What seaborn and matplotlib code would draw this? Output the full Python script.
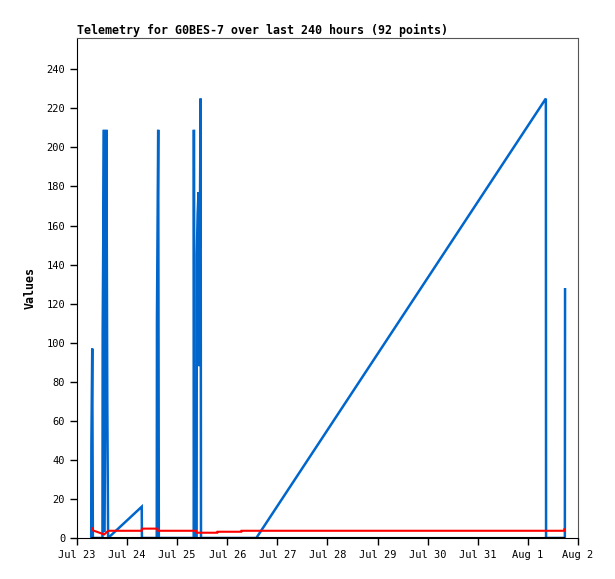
import numpy as np
import pandas as pd
import seaborn as sns
import matplotlib.pyplot as plt
import matplotlib.dates as mdates

# hours after Jul 23 00:00 and values
blue_hours = [6.8, 6.9, 7.3, 7.6, 12.2, 12.3, 12.9, 13.2, 14.1, 14.5, 14.9,
              31.0, 31.1, 38.2, 38.3, 38.9, 39.2, 55.9, 56.0, 56.1, 56.2,
              57.3, 57.4, 57.8, 58.2, 58.5, 59.2, 59.4, 85.9, 224.6, 224.7,
              233.7, 233.8]
blue_values = [0, 48, 97, 0, 0, 105, 209, 3, 209, 72, 0,
               16, 0, 0, 112, 209, 0, 0, 209, 118, 0,
               0, 145, 166, 177, 88, 225, 0, 0, 225, 0,
               0, 128]

red_hours = [7.3, 7.8, 9.5, 11.5, 13.0, 15.0, 31.0, 31.1, 38.5, 38.6, 57.0,
             57.1, 67.2, 67.3, 78.7, 78.8, 233.4, 233.5]
red_values = [5.5, 3.8, 3.2, 2.4, 1.8, 3.7, 3.7, 4.8, 4.8, 3.7, 3.7,
              2.7, 2.7, 3.2, 3.2, 3.7, 3.7, 5.0]

start = pd.Timestamp('2023-07-23')
blue = pd.DataFrame({'time': start + pd.to_timedelta(blue_hours, unit='h'), 'value': blue_values})
red = pd.DataFrame({'time': start + pd.to_timedelta(red_hours, unit='h'), 'value': red_values})
zero = pd.DataFrame({'time': [blue['time'].iloc[0], blue['time'].iloc[-1]], 'value': [0, 0]})

sns.set_style('ticks')
plt.rcParams['font.family'] = ['DejaVu Sans Mono', 'DejaVu Sans']
plt.rcParams['text.color'] = 'black'
plt.rcParams['xtick.color'] = 'black'
plt.rcParams['ytick.color'] = 'black'
plt.rcParams['axes.labelcolor'] = 'black'

fig = plt.figure(figsize=(6.15, 5.79), dpi=100)
ax = fig.add_axes([77/615, 41/579, 501/615, 500/579])

line_kw = dict(estimator=None, ax=ax, solid_joinstyle='miter', solid_capstyle='butt')
sns.lineplot(data=blue, x='time', y='value', color='#0066CC', lw=1.8, **line_kw)
sns.lineplot(data=red, x='time', y='value', color='#FF0000', lw=1.5, **line_kw)
sns.lineplot(data=zero, x='time', y='value', color='black', lw=1.5, **line_kw)

ax.set_xlim(start, start + pd.Timedelta(days=10))
ax.set_ylim(0, 256)
ax.set_yticks(range(0, 241, 20))
ax.xaxis.set_major_locator(mdates.DayLocator())
ax.xaxis.set_major_formatter(mdates.DateFormatter('%b %-d'))
ax.tick_params(labelsize=7.5, length=5, width=1, color='black', labelcolor='black')

ax.set_title('Telemetry for G0BES-7 over last 240 hours (92 points)', loc='left',
             fontsize=8.4, fontweight='bold', pad=3, color='black')
ax.set_xlabel('')
ax.set_ylabel('Values', fontsize=8.4, fontweight='bold', labelpad=7, color='black')

for s in ['top', 'right']:
    ax.spines[s].set_color('#555555')
for s in ['left', 'bottom']:
    ax.spines[s].set_color('black')

fig.savefig('out.png', dpi=100)
